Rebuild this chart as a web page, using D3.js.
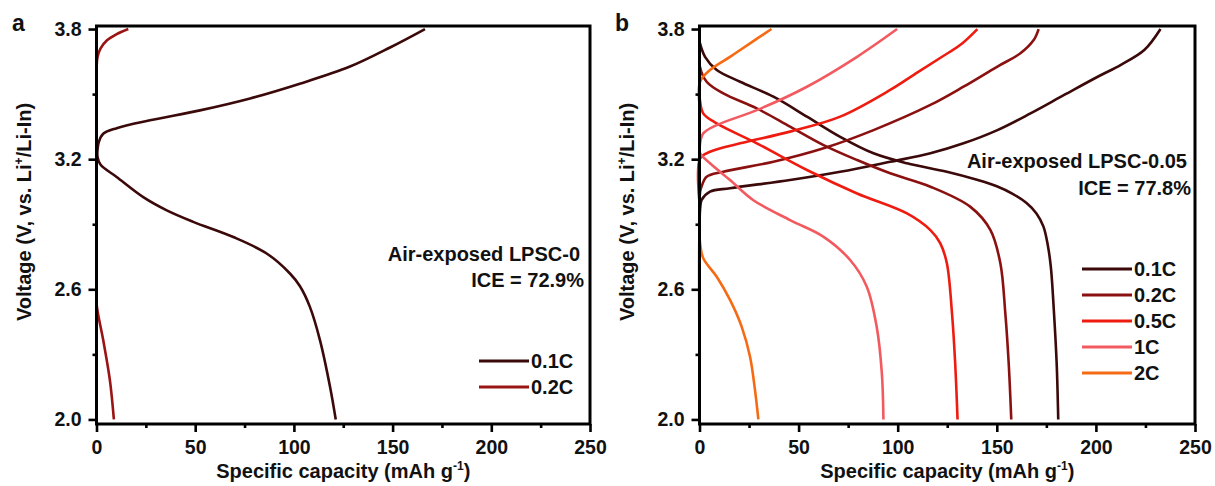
<!DOCTYPE html>
<html>
<head>
<meta charset="utf-8">
<script src="https://cdn.jsdelivr.net/npm/d3@7"></script>
<style>
  body { margin: 0; background: #fff; }
  svg text { font-family: "Liberation Sans", Arial, sans-serif; font-weight: bold; fill: #111; }
</style>
</head>
<body>
<svg id="chart" width="1215" height="486"></svg>
<script>
// ticks
const xTicks = [0, 50, 100, 150, 200, 250];
const xMinor = [25, 75, 125, 175, 225];
const yTicks = [2.0, 2.6, 3.2, 3.8];
const yMinor = [2.3, 2.9, 3.5];

// panel a : air-exposed LPSC-0  [capacity mAh/g, voltage V]
const ratesA = ['0.1C', '0.2C'];
const a01Charge = [[0, 2.55], [0, 3.1], [0.3, 3.22], [1.2, 3.28], [3.4, 3.317], [10.2, 3.343], [27.1, 3.379], [52.4, 3.425], [77.8, 3.48], [103, 3.548], [128.4, 3.627], [148.7, 3.715], [166.4, 3.8]];
const a01Discharge = [[0, 3.3], [0.4, 3.215], [2, 3.175], [10.2, 3.118], [23.7, 3.025], [35.6, 2.964], [49, 2.911], [69.3, 2.841], [86.2, 2.765], [98, 2.673], [103, 2.615], [108.1, 2.519], [113.2, 2.366], [118.3, 2.151], [121.2, 2.0]];
const a02Charge = [[0, 3.45], [0, 3.6], [0.5, 3.67], [2, 3.71], [5.2, 3.747], [10, 3.775], [16.1, 3.8]];
const a02Discharge = [[0, 2.6], [0.1, 2.527], [3.4, 2.366], [6.8, 2.18], [8.8, 2.0]];

// panel b : air-exposed LPSC-0.05
const ratesB = ['0.1C', '0.2C', '0.5C', '1C', '2C'];
const b01Charge = [[0, 2.2], [0, 2.9], [0.4, 2.98], [1.1, 3.012], [5.3, 3.05], [15.4, 3.066], [45.7, 3.104], [71, 3.142], [96.2, 3.188], [116.5, 3.227], [133.2, 3.273], [150.3, 3.334], [167, 3.411], [184, 3.496], [200.9, 3.58], [212.6, 3.635], [224.4, 3.703], [232.6, 3.8]];
const b01Discharge = [[0, 3.742], [2.8, 3.672], [8.7, 3.611], [20.5, 3.557], [37.3, 3.488], [54.2, 3.396], [71, 3.303], [87.8, 3.227], [104.7, 3.181], [124.8, 3.142], [140, 3.105], [150, 3.075], [158, 3.04], [165, 2.998], [170, 2.95], [173.5, 2.89], [175.8, 2.8], [177.3, 2.7], [178.8, 2.5], [180.2, 2.26], [181, 2.0]];
const b02Charge = [[0, 2.8], [0.3, 3.05], [1, 3.073], [3.6, 3.119], [12, 3.142], [37.3, 3.188], [62.6, 3.25], [87.8, 3.334], [116.5, 3.45], [133.2, 3.534], [150.1, 3.626], [161.9, 3.688], [168.6, 3.749], [171.1, 3.8]];
const b02Discharge = [[0, 3.68], [0.2, 3.626], [3.6, 3.557], [12, 3.503], [28.9, 3.434], [45.7, 3.35], [62.6, 3.265], [79.5, 3.196], [96.2, 3.135], [116.5, 3.073], [136.7, 2.98], [146.8, 2.873], [151.8, 2.72], [154.3, 2.489], [156, 2.259], [157.3, 2.0]];
const b05Charge = [[0, 3.0], [0.3, 3.204], [5.3, 3.234], [20.5, 3.273], [45.7, 3.327], [71, 3.396], [96.2, 3.519], [110, 3.6], [122, 3.67], [132, 3.73], [140.2, 3.8]];
const b05Discharge = [[0, 3.5], [0.2, 3.473], [1.9, 3.411], [8.7, 3.365], [28.9, 3.273], [54.2, 3.15], [79.5, 3.042], [104.7, 2.95], [116.5, 2.873], [121.5, 2.812], [124.8, 2.72], [127.4, 2.489], [129, 2.259], [130.2, 2.0]];
const b1Charge = [[0, 3.1], [0.3, 3.273], [1.9, 3.319], [8.7, 3.357], [28.9, 3.426], [54.2, 3.534], [79.5, 3.672], [99.7, 3.8]];
const b1Discharge = [[0, 3.26], [0.3, 3.227], [5.3, 3.181], [15.4, 3.104], [27, 3.012], [45.7, 2.919], [62.6, 2.842], [76, 2.735], [84.4, 2.612], [89.4, 2.427], [92, 2.213], [92.8, 2.0]];
const b2Charge = [[0, 3.45], [0.3, 3.557], [5.3, 3.611], [15.4, 3.672], [25.5, 3.734], [36.3, 3.8]];
const b2Discharge = [[0, 2.85], [0.3, 2.812], [1.9, 2.743], [8.7, 2.658], [15.4, 2.551], [21.3, 2.427], [25.5, 2.289], [28, 2.135], [29.7, 2.0]];

const colorsA = ['#3b0909', '#9a1414'];
const colorsB = ['#3b0909', '#8b1111', '#ee1c10', '#f25a5f', '#f66a14'];

const panels = [
  { letter: 'a', left: 96.5, right: 590, rates: ratesA, colors: colorsA,
    curves: [[a01Charge, a01Discharge], [a02Charge, a02Discharge]],
    note: ['Air-exposed LPSC-0', 'ICE = 72.9%'], noteX: [580, 584], noteY: [261, 287],
    legX: 479, legY: 361 },
  { letter: 'b', left: 699.5, right: 1195, rates: ratesB, colors: colorsB,
    curves: [[b01Charge, b01Discharge], [b02Charge, b02Discharge], [b05Charge, b05Discharge], [b1Charge, b1Discharge], [b2Charge, b2Discharge]],
    note: ['Air-exposed LPSC-0.05', 'ICE = 77.8%'], noteX: [1187, 1191], noteY: [168, 195],
    legX: 1082, legY: 269 }
];

const plotTop = 26, plotBottom = 424;
const svg = d3.select('#chart');

panels.forEach(p => {
  const x = d3.scaleLinear().domain([0, 250]).range([p.left, p.right]);
  const y = d3.scaleLinear().domain([1.979, 3.814]).range([plotBottom, plotTop]);
  const g = svg.append('g');

  // curves
  const line = d3.line().x(d => x(d[0])).y(d => y(d[1])).curve(d3.curveCatmullRom.alpha(0.5));
  p.curves.forEach((pair, i) => {
    pair.forEach(seg => {
      g.append('path')
        .attr('d', line(seg))
        .attr('fill', 'none')
        .attr('stroke', p.colors[i])
        .attr('stroke-width', 2.6)
        .attr('stroke-linejoin', 'round');
    });
  });

  // frame
  g.append('rect')
    .attr('x', p.left).attr('y', plotTop)
    .attr('width', p.right - p.left).attr('height', plotBottom - plotTop)
    .attr('fill', 'none').attr('stroke', '#000').attr('stroke-width', 3);

  // axes
  const xAxis = g.append('g').attr('transform', `translate(0,${plotBottom})`)
    .call(d3.axisBottom(x).tickValues(xTicks).tickSize(8).tickSizeOuter(0).tickPadding(8).tickFormat(d3.format('d')));
  const xAxisMinor = g.append('g').attr('transform', `translate(0,${plotBottom})`)
    .call(d3.axisBottom(x).tickValues(xMinor).tickSize(4).tickSizeOuter(0).tickFormat(''));
  const yAxis = g.append('g').attr('transform', `translate(${p.left},0)`)
    .call(d3.axisLeft(y).tickValues(yTicks).tickSize(8).tickSizeOuter(0).tickPadding(7).tickFormat(d3.format('.1f')));
  const yAxisMinor = g.append('g').attr('transform', `translate(${p.left},0)`)
    .call(d3.axisLeft(y).tickValues(yMinor).tickSize(4).tickSizeOuter(0).tickFormat(''));

  [xAxis, xAxisMinor, yAxis, yAxisMinor].forEach(a => {
    a.select('.domain').remove();
    a.selectAll('line').attr('stroke', '#000').attr('stroke-width', 2.6);
    a.selectAll('text').style('font-size', '19.5px').attr('fill', '#111');
  });

  // axis titles
  const xt = g.append('text')
    .attr('x', (p.left + p.right) / 2).attr('y', 478)
    .attr('text-anchor', 'middle').style('font-size', '20px');
  xt.append('tspan').text('Specific capacity (mAh g');
  xt.append('tspan').text('-1').attr('dy', -8).style('font-size', '12px');
  xt.append('tspan').text(')').attr('dy', 8);

  const yt = g.append('text')
    .attr('transform', `translate(${p.left - 72.5},212) rotate(-90)`)
    .attr('text-anchor', 'middle').attr('dy', '0.35em').style('font-size', '20px');
  yt.append('tspan').text('Voltage (V, vs. Li');
  yt.append('tspan').text('+').attr('dy', -8).style('font-size', '12px');
  yt.append('tspan').text('/Li-In)').attr('dy', 8);

  // panel letter
  g.append('text').attr('x', p.left - 84.5).attr('y', 31)
    .style('font-size', '23px').text(p.letter);

  // annotation
  p.note.forEach((t, i) => {
    g.append('text').attr('x', p.noteX[i]).attr('y', p.noteY[i])
      .attr('text-anchor', 'end').style('font-size', '20px').text(t);
  });

  // legend
  p.rates.forEach((r, i) => {
    const ly = p.legY + i * 26;
    g.append('line')
      .attr('x1', p.legX).attr('x2', p.legX + 50)
      .attr('y1', ly).attr('y2', ly)
      .attr('stroke', p.colors[i]).attr('stroke-width', 3);
    g.append('text').attr('x', p.legX + 52).attr('y', ly)
      .attr('dy', '0.36em').style('font-size', '20px').text(r);
  });
});
</script>
</body>
</html>
